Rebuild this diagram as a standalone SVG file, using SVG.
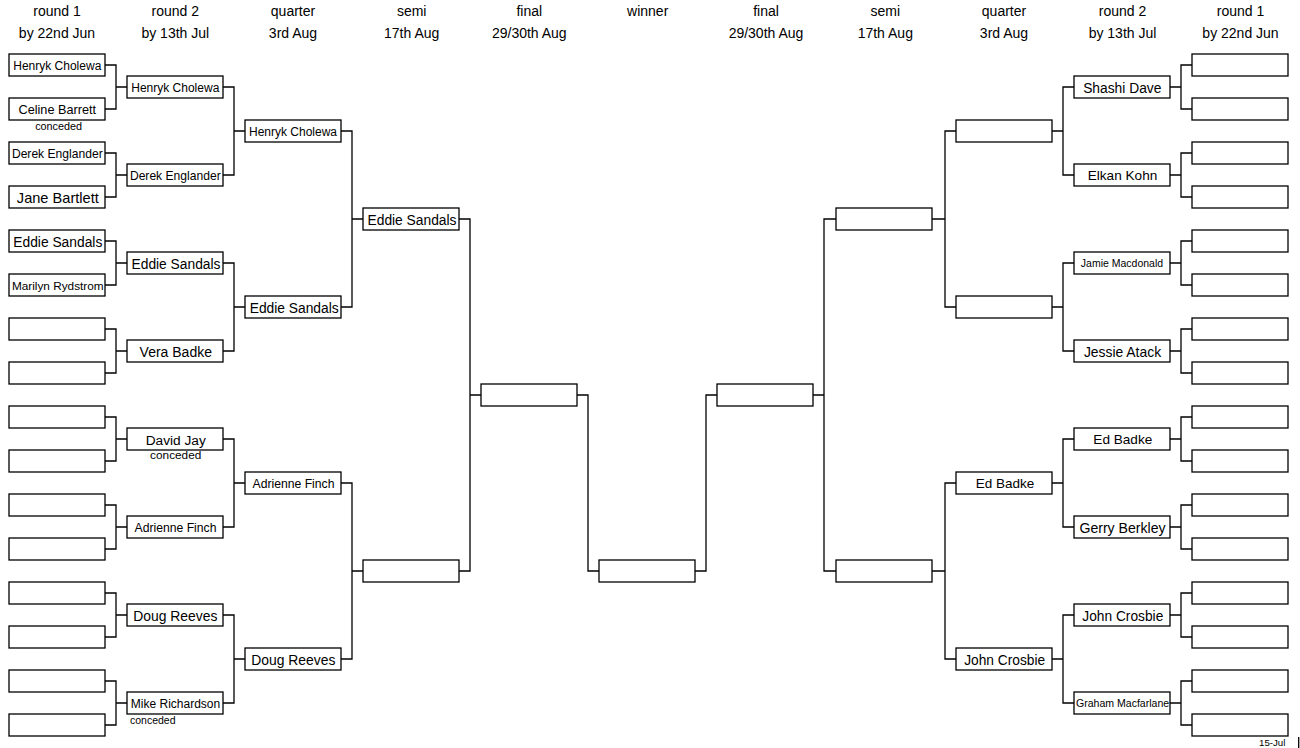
<svg xmlns="http://www.w3.org/2000/svg" width="1300" height="748" viewBox="0 0 1300 748">
<style>
.b{fill:#fff;stroke:#000;stroke-width:1.3}
.c{fill:none;stroke:#000;stroke-width:1.3}
text{font-family:"Liberation Sans",Arial,sans-serif;fill:#000;text-anchor:middle}
.h{font-size:14px}
.n12{font-size:12px}
.n14{font-size:13.8px}
.n10{font-size:10.5px}
.note{font-size:10.8px}
</style>
<rect x="0" y="0" width="1300" height="748" fill="#fff"/>
<g id="headers">
<text class="h" x="57" y="16">round 1</text><text class="h" x="57" y="37.5">by 22nd Jun</text>
<text class="h" x="175.3" y="16">round 2</text><text class="h" x="175.3" y="37.5">by 13th Jul</text>
<text class="h" x="293" y="16">quarter</text><text class="h" x="293" y="37.5">3rd Aug</text>
<text class="h" x="411.7" y="16">semi</text><text class="h" x="411.7" y="37.5">17th Aug</text>
<text class="h" x="529.3" y="16">final</text><text class="h" x="529.3" y="37.5">29/30th Aug</text>
<text class="h" x="647.7" y="16">winner</text>
<text class="h" x="766" y="16">final</text><text class="h" x="766" y="37.5">29/30th Aug</text>
<text class="h" x="885.3" y="16">semi</text><text class="h" x="885.3" y="37.5">17th Aug</text>
<text class="h" x="1004" y="16">quarter</text><text class="h" x="1004" y="37.5">3rd Aug</text>
<text class="h" x="1122.5" y="16">round 2</text><text class="h" x="1122.5" y="37.5">by 13th Jul</text>
<text class="h" x="1240.5" y="16">round 1</text><text class="h" x="1240.5" y="37.5">by 22nd Jun</text>
</g>
<g id="connectors">
<path class="c" d="M105,65H116V109H105M116,87H127M105,153H116V197H105M116,175H127M105,241H116V285H105M116,263H127M105,329H116V373H105M116,351H127M105,417H116V461H105M116,439H127M105,505H116V549H105M116,527H127M105,593H116V637H105M116,615H127M105,681H116V725H105M116,703H127"/>
<path class="c" d="M223,87H234V175H223M234,131H245M223,263H234V351H223M234,307H245M223,439H234V527H223M234,483H245M223,615H234V703H223M234,659H245"/>
<path class="c" d="M341,131H352V307H341M352,219H363M341,483H352V659H341M352,571H363"/>
<path class="c" d="M459,219H470V571H459M470,395H481"/>
<path class="c" d="M577,395H588V571H599M695,571H706V395H717"/>
<path class="c" d="M836,219H824V571H836M824,395H813"/>
<path class="c" d="M956,131H945V307H956M945,219H932M956,483H945V659H956M945,571H932"/>
<path class="c" d="M1074,87H1063V175H1074M1063,131H1052M1074,263H1063V351H1074M1063,307H1052M1074,439H1063V527H1074M1063,483H1052M1074,615H1063V703H1074M1063,659H1052"/>
<path class="c" d="M1192,65H1181V109H1192M1181,87H1170M1192,153H1181V197H1192M1181,175H1170M1192,241H1181V285H1192M1181,263H1170M1192,329H1181V373H1192M1181,351H1170M1192,417H1181V461H1192M1181,439H1170M1192,505H1181V549H1192M1181,527H1170M1192,593H1181V637H1192M1181,615H1170M1192,681H1181V725H1192M1181,703H1170"/>
</g>
<!-- left round 1 -->
<g id="L1-1"><rect class="b" x="9" y="54" width="96" height="22"/><text class="n12" x="57.3" y="69.8">Henryk Cholewa</text></g>
<g id="L1-2"><rect class="b" x="9" y="98" width="96" height="22"/><text style="font-size:12.7px" x="57.3" y="114.1">Celine Barrett</text><text class="note" x="58.6" y="130">conceded</text></g>
<g id="L1-3"><rect class="b" x="9" y="142" width="96" height="22"/><text style="font-size:12.1px" x="57.3" y="157.8">Derek Englander</text></g>
<g id="L1-4"><rect class="b" x="9" y="186" width="96" height="22"/><text style="font-size:14.6px" x="57.8" y="202.8">Jane Bartlett</text></g>
<g id="L1-5"><rect class="b" x="9" y="230" width="96" height="22"/><text class="n14" x="57.8" y="246.5">Eddie Sandals</text></g>
<g id="L1-6"><rect class="b" x="9" y="274" width="96" height="22"/><text style="font-size:11.8px" x="57.8" y="289.7">Marilyn Rydstrom</text></g>
<g id="L1-7"><rect class="b" x="9" y="318" width="96" height="22"/></g>
<g id="L1-8"><rect class="b" x="9" y="362" width="96" height="22"/></g>
<g id="L1-9"><rect class="b" x="9" y="406" width="96" height="22"/></g>
<g id="L1-10"><rect class="b" x="9" y="450" width="96" height="22"/></g>
<g id="L1-11"><rect class="b" x="9" y="494" width="96" height="22"/></g>
<g id="L1-12"><rect class="b" x="9" y="538" width="96" height="22"/></g>
<g id="L1-13"><rect class="b" x="9" y="582" width="96" height="22"/></g>
<g id="L1-14"><rect class="b" x="9" y="626" width="96" height="22"/></g>
<g id="L1-15"><rect class="b" x="9" y="670" width="96" height="22"/></g>
<g id="L1-16"><rect class="b" x="9" y="714" width="96" height="22"/></g>
<!-- left round 2 -->
<g id="L2-1"><rect class="b" x="127" y="76" width="96" height="22"/><text class="n12" x="175.3" y="91.8">Henryk Cholewa</text></g>
<g id="L2-2"><rect class="b" x="127" y="164" width="96" height="22"/><text style="font-size:12.1px" x="175.3" y="179.8">Derek Englander</text></g>
<g id="L2-3"><rect class="b" x="127" y="252" width="96" height="22"/><text class="n14" x="176" y="268.5">Eddie Sandals</text></g>
<g id="L2-4"><rect class="b" x="127" y="340" width="96" height="22"/><text style="font-size:14px" x="175.8" y="356.6">Vera Badke</text></g>
<g id="L2-5"><rect class="b" x="127" y="428" width="96" height="22"/><text style="font-size:13.7px" x="175.8" y="444.5">David Jay</text><text style="font-size:11.8px" x="175.7" y="459.3">conceded</text></g>
<g id="L2-6"><rect class="b" x="127" y="516" width="96" height="22"/><text style="font-size:12.2px" x="175.5" y="531.9">Adrienne Finch</text></g>
<g id="L2-7"><rect class="b" x="127" y="604" width="96" height="22"/><text style="font-size:13.9px" x="175.3" y="620.6">Doug Reeves</text></g>
<g id="L2-8"><rect class="b" x="127" y="692" width="96" height="22"/><text class="n12" x="175.5" y="707.8">Mike Richardson</text><text style="font-size:10.5px;text-anchor:start" x="130" y="724.3">conceded</text></g>
<!-- left quarter -->
<g id="LQ-1"><rect class="b" x="245" y="120" width="96" height="22"/><text class="n12" x="293" y="135.8">Henryk Cholewa</text></g>
<g id="LQ-2"><rect class="b" x="245" y="296" width="96" height="22"/><text class="n14" x="294.2" y="312.5">Eddie Sandals</text></g>
<g id="LQ-3"><rect class="b" x="245" y="472" width="96" height="22"/><text style="font-size:12.2px" x="293.5" y="487.9">Adrienne Finch</text></g>
<g id="LQ-4"><rect class="b" x="245" y="648" width="96" height="22"/><text style="font-size:13.9px" x="293.3" y="664.6">Doug Reeves</text></g>
<!-- left semi / final / winner -->
<g id="LS-1"><rect class="b" x="363" y="208" width="96" height="22"/><text class="n14" x="412" y="224.5">Eddie Sandals</text></g>
<g id="LS-2"><rect class="b" x="363" y="560" width="96" height="22"/></g>
<g id="LF"><rect class="b" x="481" y="384" width="96" height="22"/></g>
<g id="W"><rect class="b" x="599" y="560" width="96" height="22"/></g>
<!-- right final / semi -->
<g id="RF"><rect class="b" x="717" y="384" width="96" height="22"/></g>
<g id="RS-1"><rect class="b" x="836" y="208" width="96" height="22"/></g>
<g id="RS-2"><rect class="b" x="836" y="560" width="96" height="22"/></g>
<!-- right quarter -->
<g id="RQ-1"><rect class="b" x="956" y="120" width="96" height="22"/></g>
<g id="RQ-2"><rect class="b" x="956" y="296" width="96" height="22"/></g>
<g id="RQ-3"><rect class="b" x="956" y="472" width="96" height="22"/><text style="font-size:13.5px" x="1005" y="488.4">Ed Badke</text></g>
<g id="RQ-4"><rect class="b" x="956" y="648" width="96" height="22"/><text style="font-size:13.75px" x="1004.7" y="664.5">John Crosbie</text></g>
<!-- right round 2 -->
<g id="R2-1"><rect class="b" x="1074" y="76" width="96" height="22"/><text class="n14" x="1122.3" y="92.5">Shashi Dave</text></g>
<g id="R2-2"><rect class="b" x="1074" y="164" width="96" height="22"/><text style="font-size:13.6px" x="1122.5" y="180.4">Elkan Kohn</text></g>
<g id="R2-3"><rect class="b" x="1074" y="252" width="96" height="22"/><text class="n10" x="1122" y="267.2">Jamie Macdonald</text></g>
<g id="R2-4"><rect class="b" x="1074" y="340" width="96" height="22"/><text style="font-size:13.9px" x="1122.5" y="356.6">Jessie Atack</text></g>
<g id="R2-5"><rect class="b" x="1074" y="428" width="96" height="22"/><text style="font-size:13.6px" x="1122.8" y="444.4">Ed Badke</text></g>
<g id="R2-6"><rect class="b" x="1074" y="516" width="96" height="22"/><text style="font-size:14.1px" x="1122.5" y="532.6">Gerry Berkley</text></g>
<g id="R2-7"><rect class="b" x="1074" y="604" width="96" height="22"/><text style="font-size:13.75px" x="1122.8" y="620.5">John Crosbie</text></g>
<g id="R2-8"><rect class="b" x="1074" y="692" width="96" height="22"/><text style="font-size:10.55px" x="1122.6" y="707.2">Graham Macfarlane</text></g>
<!-- right round 1 -->
<g id="R1-1"><rect class="b" x="1192" y="54" width="96" height="22"/></g>
<g id="R1-2"><rect class="b" x="1192" y="98" width="96" height="22"/></g>
<g id="R1-3"><rect class="b" x="1192" y="142" width="96" height="22"/></g>
<g id="R1-4"><rect class="b" x="1192" y="186" width="96" height="22"/></g>
<g id="R1-5"><rect class="b" x="1192" y="230" width="96" height="22"/></g>
<g id="R1-6"><rect class="b" x="1192" y="274" width="96" height="22"/></g>
<g id="R1-7"><rect class="b" x="1192" y="318" width="96" height="22"/></g>
<g id="R1-8"><rect class="b" x="1192" y="362" width="96" height="22"/></g>
<g id="R1-9"><rect class="b" x="1192" y="406" width="96" height="22"/></g>
<g id="R1-10"><rect class="b" x="1192" y="450" width="96" height="22"/></g>
<g id="R1-11"><rect class="b" x="1192" y="494" width="96" height="22"/></g>
<g id="R1-12"><rect class="b" x="1192" y="538" width="96" height="22"/></g>
<g id="R1-13"><rect class="b" x="1192" y="582" width="96" height="22"/></g>
<g id="R1-14"><rect class="b" x="1192" y="626" width="96" height="22"/></g>
<g id="R1-15"><rect class="b" x="1192" y="670" width="96" height="22"/></g>
<g id="R1-16"><rect class="b" x="1192" y="714" width="96" height="22"/></g>
<g id="footer">
<text style="font-size:9.7px" x="1272.2" y="745.8">15-Jul</text>
<line class="c" x1="1298.7" y1="737" x2="1298.7" y2="748"/>
</g>
</svg>
